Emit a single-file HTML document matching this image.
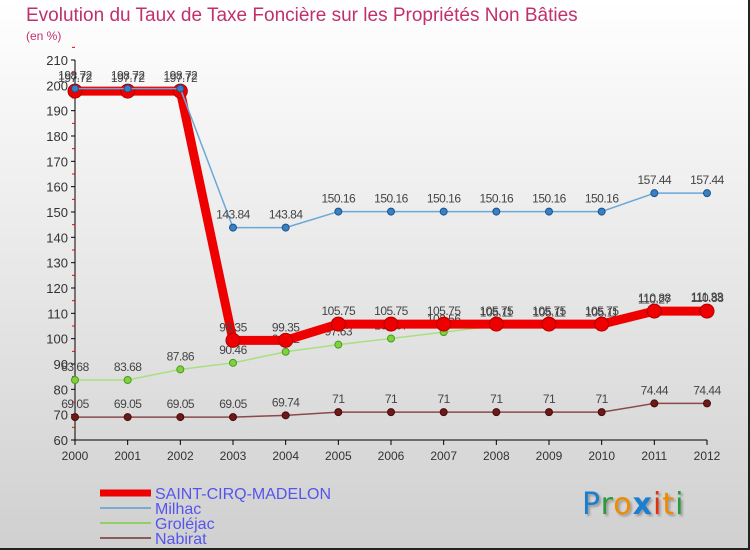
<!DOCTYPE html>
<html><head><meta charset="utf-8"><style>
body{margin:0;}
#wrap{position:relative;width:750px;height:550px;background:linear-gradient(#ffffff,#d0d0d0);overflow:hidden;font-family:"Liberation Sans",sans-serif;box-sizing:border-box;border-right:2px solid #222;border-bottom:2px solid #222;}
.t{position:absolute;}
</style></head><body>
<div id="wrap">
<div class="t" style="left:26px;top:5px;font-size:19px;color:#c0306b;">Evolution du Taux de Taxe Foncière sur les Propriétés Non Bâties</div>
<div class="t" style="left:26px;top:29px;font-size:12px;color:#c0306b;">(en %)</div>
<svg id="svg" width="750" height="550" style="position:absolute;left:0;top:0"></svg>
<div class="t" style="left:582px;top:487px;font-size:30px;font-family:'DejaVu Sans',sans-serif;text-shadow:2px 2px 2px #999;letter-spacing:1px"><span style="color:#1a7fd0">P</span><span style="color:#2a9a40">r</span><span style="color:#f08a00">o</span><span style="color:#1a7fd0;font-weight:bold">x</span><span style="color:#e03010">i</span><span style="color:#f08a00">t</span><span style="color:#2a9a40">i</span></div>
</div>
<script>
const years=["2000","2001","2002","2003","2004","2005","2006","2007","2008","2009","2010","2011","2012"];
const yTicks=[60,70,80,90,100,110,120,130,140,150,160,170,180,190,200,210];
const saint=[197.72,197.72,197.72,99.35,99.35,105.75,105.75,105.75,105.75,105.75,105.75,110.88,110.88];
const milhac=[198.72,198.72,198.72,143.84,143.84,150.16,150.16,150.16,150.16,150.16,150.16,157.44,157.44];
const grolejac=[83.68,83.68,87.86,90.46,94.82,97.63,100.07,102.56,105.11,105.11,105.11,110.27,111.33];
const nabirat=[69.05,69.05,69.05,69.05,69.74,71,71,71,71,71,71,74.44,74.44];
const svg=document.getElementById('svg');const NS='http://www.w3.org/2000/svg';
const X=i=>75+i*(707-75)/12, Y=v=>440-(v-60)*380/150;
function el(t,a,p){const e=document.createElementNS(NS,t);for(const k in a)e.setAttribute(k,a[k]);(p||svg).appendChild(e);return e;}
let e;
e=el('line',{x1:X(0),y1:60,x2:X(0),y2:440,stroke:'#000'});
e=el('line',{x1:X(0),y1:440,x2:X(12),y2:440,stroke:'#000'});
yTicks.forEach(v=>{el('line',{x1:X(0)-4,y1:Y(v),x2:X(0),y2:Y(v),stroke:'#000'});
 el('line',{x1:X(0)-3,y1:Y(v+5),x2:X(0),y2:Y(v+5),stroke:'#e00'});
 e=el('text',{x:X(0)-7,y:Y(v)+5,'text-anchor':'end','font-size':13,fill:'#333'});e.textContent=v;});
years.forEach((y,i)=>{el('line',{x1:X(i),y1:440,x2:X(i),y2:445,stroke:'#000'});
 e=el('text',{x:X(i),y:460,'text-anchor':'middle','font-size':12,fill:'#333'});e.textContent=y;});
function series(d,name,col,w,r,fill,stroke,sw){
 const g=el('g',{});
 el('polyline',{points:d.map((v,i)=>X(i)+','+Y(v)).join(' '),fill:'none',stroke:col,'stroke-width':w,'stroke-linejoin':'round'},g);
 d.forEach((v,i)=>{const c=el('circle',{cx:X(i),cy:Y(v),r:r,fill:fill,stroke:stroke,'stroke-width':sw},g);
  const t=el('text',{x:X(i),y:Y(v)-9,'text-anchor':'middle','font-size':12,fill:'#444','letter-spacing':'-0.5'},g);t.textContent=String(v);});
}
series(nabirat,'nabirat','#8b4a4a',1.5,3.5,'#6b1a1a','#4a0a0a',1);
series(grolejac,'grolejac','#a8e080',1.5,3.5,'#80d040','#4a9a20',1);
series(saint,'saint-cirq','#ee0000',9,7,'#ee0000','#b00000',1);
series(milhac,'milhac','#6aa8d8',1.5,3.5,'#3a80c0','#1a5090',1);
const leg=[['SAINT-CIRQ-MADELON','#ee0000',7],['Milhac','#7aaad0',2],['Groléjac','#90d060',2],['Nabirat','#8b5a5a',2]];
leg.forEach((l,i)=>{const y=493+i*15;const g=el('g',{});
 el('line',{x1:100,y1:y,x2:151,y2:y,stroke:l[1],'stroke-width':l[2]},g);
 const t=el('text',{x:155,y:y+6,'font-size':16,fill:'#5555ee'},g);t.textContent=l[0];});
</script>
</body></html>
